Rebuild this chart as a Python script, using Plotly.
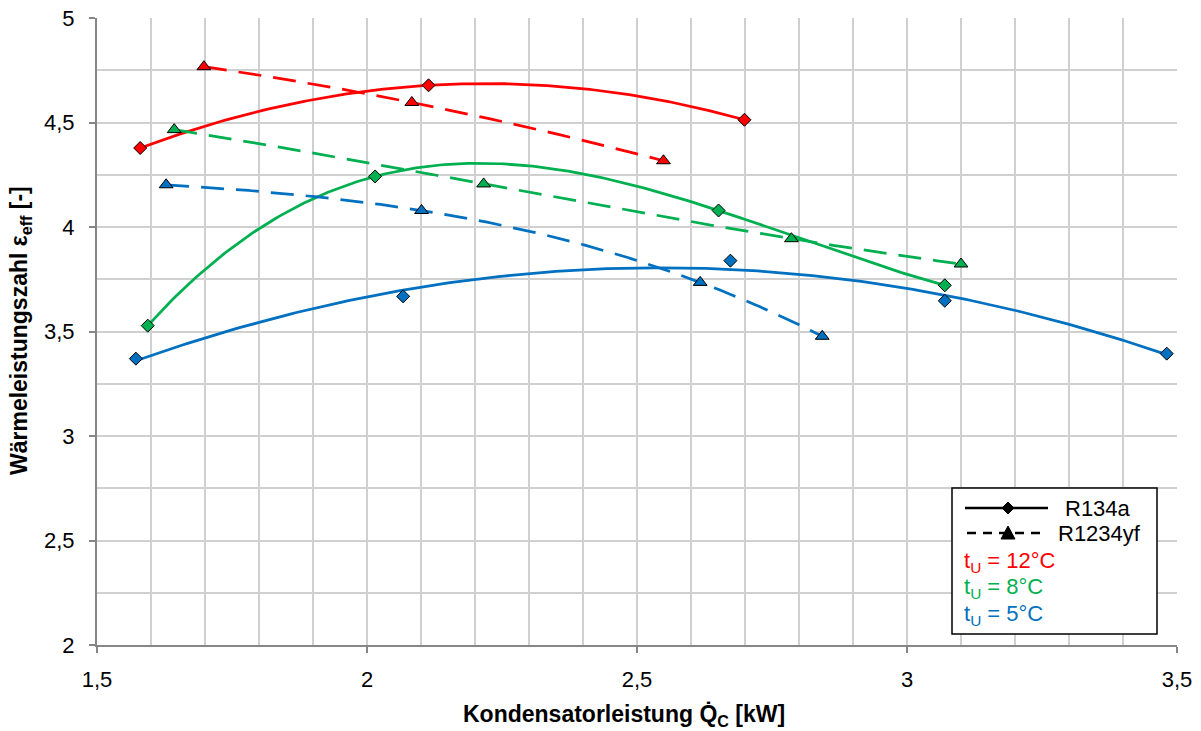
import numpy as np
import plotly.graph_objects as go

# Kondensatorleistung Q_C [kW] and Wärmeleistungszahl eps_eff [-]
r134a_12_q = [1.580, 2.114, 2.699]
r134a_12_eps = [4.378, 4.678, 4.513]
r1234yf_12_q = [1.698, 2.083, 2.549]
r1234yf_12_eps = [4.767, 4.596, 4.317]

r134a_8_q = [1.594, 2.015, 2.651, 3.070]
r134a_8_eps = [3.528, 4.242, 4.079, 3.721]
r1234yf_8_q = [1.643, 2.216, 2.786, 3.100]
r1234yf_8_eps = [4.466, 4.206, 3.944, 3.823]

r134a_5_q = [1.572, 2.067, 2.673, 3.070, 3.481]
r134a_5_eps = [3.370, 3.668, 3.839, 3.647, 3.394]
r1234yf_5_q = [1.628, 2.101, 2.617, 2.843]
r1234yf_5_eps = [4.202, 4.079, 3.735, 3.477]

x_ticks = [1.5, 2.0, 2.5, 3.0, 3.5]
y_ticks = [2.0, 2.5, 3.0, 3.5, 4.0, 4.5, 5.0]

RED = "#FF0000"
GREEN = "#00B050"
BLUE = "#0070C0"
FONT = "Liberation Sans, Arial, sans-serif"
FS = 22
FS_TITLE = 23

DASH = "23px,12px"
# (q, eps, colour, marker symbol, line dash, trend line order)
series = [
    (r134a_12_q, r134a_12_eps, RED, "diamond", "solid", 2),
    (r1234yf_12_q, r1234yf_12_eps, RED, "triangle-up", DASH, 2),
    (r134a_8_q, r134a_8_eps, GREEN, "diamond", "solid", 3),
    (r1234yf_8_q, r1234yf_8_eps, GREEN, "triangle-up", DASH, 3),
    (r134a_5_q, r134a_5_eps, BLUE, "diamond", "solid", 2),
    (r1234yf_5_q, r1234yf_5_eps, BLUE, "triangle-up", DASH, 3),
]


def poly_trend(q, eps, order, n=200):
    """Polynomial trend line over the measured range."""
    coeffs = np.polyfit(q, eps, order)
    qq = np.linspace(min(q), max(q), n)
    return qq, np.polyval(coeffs, qq)


fig = go.Figure()

for q, eps, color, symbol, dash, order in series:
    qq, ee = poly_trend(q, eps, order)
    fig.add_trace(go.Scatter(
        x=qq, y=ee, mode="lines",
        line=dict(color=color, width=2.75, dash=dash),
        showlegend=False, hoverinfo="skip",
    ))

for q, eps, color, symbol, dash, order in series:
    fig.add_trace(go.Scatter(
        x=q, y=eps, mode="markers",
        marker=dict(symbol=symbol, color=color,
                    size=10 if symbol == "diamond" else 12,
                    line=dict(color="#000000", width=1)),
        showlegend=False,
    ))

# plot area in pixels
L, R, T, B = 97, 24, 18, 86
W, H = 1201, 731
PW, PH = W - L - R, H - T - B


def px(xp):
    return (xp - L) / PW


def py(yp):
    return (H - B - yp) / PH


shapes = []
annotations = []

# legend box
shapes.append(dict(type="rect", xref="paper", yref="paper",
                   x0=px(952), x1=px(1157), y0=py(634), y1=py(488),
                   line=dict(color="#000000", width=1.5), fillcolor="#FFFFFF",
                   layer="above"))
# legend: R134a (solid line with diamond)
shapes.append(dict(type="line", xref="paper", yref="paper",
                   x0=px(965), x1=px(1048), y0=py(508), y1=py(508),
                   line=dict(color="#000000", width=2.5), layer="above"))
shapes.append(dict(type="path", xref="paper", yref="paper",
                   xsizemode="pixel", ysizemode="pixel",
                   xanchor=px(1008), yanchor=py(508),
                   path="M0,6 L6,0 L0,-6 L-6,0 Z",
                   fillcolor="#000000", line=dict(color="#000000", width=1),
                   layer="above"))
# legend: R1234yf (dashed line with triangle)
shapes.append(dict(type="line", xref="paper", yref="paper",
                   x0=px(967), x1=px(1047), y0=py(533), y1=py(533),
                   line=dict(color="#000000", width=2.5, dash="9px,7px"),
                   layer="above"))
shapes.append(dict(type="path", xref="paper", yref="paper",
                   xsizemode="pixel", ysizemode="pixel",
                   xanchor=px(1008), yanchor=py(533),
                   path="M-7,-6 L7,-6 L0,7 Z",
                   fillcolor="#000000", line=dict(color="#000000", width=1),
                   layer="above"))

annotations.append(dict(x=px(1063), y=py(508), xref="paper", yref="paper",
                        text="R134a", showarrow=False, xanchor="left",
                        yanchor="middle", font=dict(size=FS, color="#000000", family=FONT)))
annotations.append(dict(x=px(1056), y=py(533), xref="paper", yref="paper",
                        text="R1234yf", showarrow=False, xanchor="left",
                        yanchor="middle", font=dict(size=FS, color="#000000", family=FONT)))
for label, color, yp in [("t<sub>U</sub> = 12°C", RED, 562),
                         ("t<sub>U</sub> = 8°C", GREEN, 588),
                         ("t<sub>U</sub> = 5°C", BLUE, 615)]:
    annotations.append(dict(x=px(962), y=py(yp), xref="paper", yref="paper",
                            text=label, showarrow=False, xanchor="left",
                            yanchor="middle", font=dict(size=FS, color=color, family=FONT)))

# axis titles
annotations.append(dict(x=px(624), y=py(715), xref="paper", yref="paper",
                        text="<b>Kondensatorleistung Q̇<sub>C</sub> [kW]</b>",
                        showarrow=False, xanchor="center", yanchor="middle",
                        font=dict(size=FS_TITLE, color="#000000", family=FONT)))
annotations.append(dict(x=px(20), y=py(331), xref="paper", yref="paper",
                        text="<b>Wärmeleistungszahl ε<sub>eff</sub> [-]</b>",
                        showarrow=False, xanchor="center", yanchor="middle",
                        textangle=-90,
                        font=dict(size=FS_TITLE, color="#000000", family=FONT)))

grid = "#D0D0D0"
axis_col = "#868686"

fig.update_layout(
    width=W, height=H,
    margin=dict(l=L, r=R, t=T, b=B, pad=0, autoexpand=False),
    paper_bgcolor="#FFFFFF", plot_bgcolor="#FFFFFF",
    separators=",.",
    font=dict(family=FONT, size=FS, color="#000000"),
    shapes=shapes, annotations=annotations,
    xaxis=dict(range=[1.5, 3.5], tickvals=x_ticks, automargin=False,
               showgrid=True, gridcolor=grid, gridwidth=1.5,
               minor=dict(dtick=0.1, tick0=1.5, showgrid=True, gridcolor=grid, gridwidth=1.5),
               showline=True, linecolor=axis_col, linewidth=2,
               ticks="outside", ticklen=6, tickwidth=1.5, tickcolor=axis_col,
               zeroline=False, ticklabelstandoff=8,
               tickfont=dict(size=FS, family=FONT)),
    yaxis=dict(range=[2, 5], tickvals=y_ticks, automargin=False,
               showgrid=True, gridcolor=grid, gridwidth=1.5,
               minor=dict(dtick=0.25, tick0=2, showgrid=True, gridcolor=grid, gridwidth=1.5),
               showline=True, linecolor=axis_col, linewidth=2,
               ticks="outside", ticklen=6, tickwidth=1.5, tickcolor=axis_col,
               zeroline=False, ticklabelstandoff=10,
               tickfont=dict(size=FS, family=FONT)),
)

fig.write_html("out.html")
